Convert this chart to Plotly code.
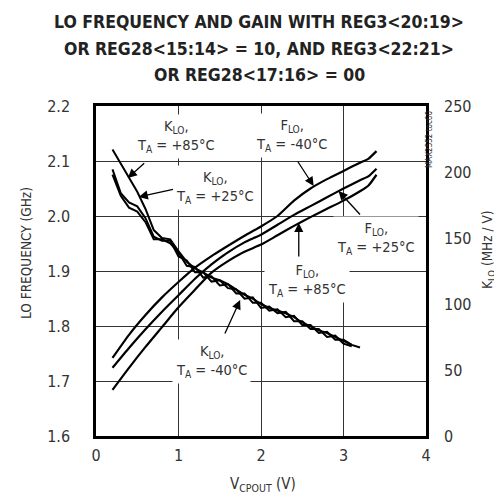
import plotly.graph_objects as go

# ---- data ----
x_f = [0.2, 0.4, 0.6, 0.8, 1.0, 1.2, 1.4, 1.6, 1.8, 2.0, 2.2, 2.4, 2.6, 2.8, 3.0, 3.2, 3.3, 3.4]
f_m40 = [1.742, 1.784, 1.820, 1.852, 1.880, 1.906, 1.927, 1.946, 1.964, 1.981, 2.000, 2.028, 2.050, 2.067, 2.082, 2.097, 2.104, 2.118]
f_p25 = [1.724, 1.760, 1.794, 1.826, 1.856, 1.886, 1.912, 1.934, 1.952, 1.966, 1.984, 2.002, 2.018, 2.034, 2.050, 2.065, 2.072, 2.086]
f_p85 = [1.684, 1.724, 1.762, 1.798, 1.834, 1.866, 1.897, 1.918, 1.935, 1.948, 1.965, 1.982, 1.998, 2.013, 2.028, 2.045, 2.055, 2.075]

x_k85 = [0.2, 0.3, 0.4, 0.5, 0.6, 0.7, 0.8, 0.9, 1.0, 1.1, 1.2, 1.3, 1.4, 1.5, 1.6, 1.7, 1.8, 1.9, 2.0,
         2.1, 2.2, 2.3, 2.4, 2.5, 2.6, 2.7, 2.8, 2.9, 3.0, 3.1, 3.2]
k_p85 = [217, 206, 195, 185, 172, 156, 150, 149, 140, 132, 127, 124, 120, 118, 115, 111, 107, 104, 100,
         97, 95, 93, 90, 86, 83, 80, 78, 75, 72, 69, 67]
x_k = [0.2, 0.3, 0.4, 0.5, 0.6, 0.7, 0.8, 0.9, 1.0, 1.1, 1.2, 1.3, 1.4, 1.5, 1.6, 1.7, 1.8, 1.9, 2.0,
       2.1, 2.2, 2.3, 2.4, 2.5, 2.6, 2.7, 2.8, 2.9, 3.0, 3.1]
k_p25 = [202, 184, 177, 174, 165, 151, 148, 148, 136, 133, 124, 124, 117, 118, 112, 111, 104, 105, 97,
         98, 93, 94, 87, 87, 81, 81, 75, 76, 70, 68]
k_m40 = [198, 182, 173, 170, 162, 149, 149, 146, 139, 129, 128, 120, 121, 114, 115, 108, 108, 101, 101,
         95, 96, 90, 91, 84, 84, 78, 79, 73, 73, 69]

x_ticks = [0, 1, 2, 3, 4]
y_ticks = [1.6, 1.7, 1.8, 1.9, 2.0, 2.1, 2.2]
y_ticklabels = ["1.6", "1.7", "1.8", "1.9", "2.0", "2.1", "2.2"]
y2_ticks = [0, 50, 100, 150, 200, 250]

title_lines = ["LO FREQUENCY AND GAIN WITH REG3<20:19>",
               "OR REG28<15:14> = 10, AND REG3<22:21>",
               "OR REG28<17:16> = 00"]

NARROW = "Liberation Sans Narrow, Arial Narrow, DejaVu Sans Condensed, sans-serif"
LW = 2.0

fig = go.Figure()
for ys in (f_m40, f_p25, f_p85):
    fig.add_trace(go.Scatter(x=x_f, y=ys, mode="lines", line=dict(color="black", width=2.2, shape="spline", smoothing=0.6),
                             showlegend=False, hoverinfo="skip"))
fig.add_trace(go.Scatter(x=x_k85, y=k_p85, yaxis="y2", mode="lines", line=dict(color="black", width=LW),
                         showlegend=False, hoverinfo="skip"))
for ks in (k_p25, k_m40):
    fig.add_trace(go.Scatter(x=x_k, y=ks, yaxis="y2", mode="lines", line=dict(color="black", width=LW),
                             showlegend=False, hoverinfo="skip"))

tick_font = dict(family=NARROW, size=16, color="#333")
fig.update_layout(
    width=502, height=498,
    margin=dict(l=88, r=84, t=98, b=70),
    paper_bgcolor="white", plot_bgcolor="white",
    xaxis=dict(range=[0, 4], tickvals=x_ticks, showgrid=True, gridcolor="#333", gridwidth=1,
               showline=True, linecolor="black", linewidth=2.5, mirror=True, ticks="",
               tickfont=tick_font, ticklabelstandoff=3, zeroline=False),
    yaxis=dict(range=[1.6, 2.2], tickvals=y_ticks, ticktext=y_ticklabels, showgrid=True, gridcolor="#333",
               gridwidth=1, showline=True, linecolor="black", linewidth=2.5, mirror=True, ticks="",
               tickfont=tick_font, ticklabelstandoff=20, zeroline=False),
    yaxis2=dict(range=[0, 250], tickvals=y2_ticks, overlaying="y", side="right", showgrid=False,
                ticks="", tickfont=tick_font, ticklabelstandoff=17, zeroline=False, showline=False),
)

def px2x(px):
    return (px - 88) / 83.0

def py2y(py):
    return 2.2 - (py - 98) / 550.0

def pap(px, py):
    return (px - 88) / 330.0, (428 - py) / 330.0

ann = []
# titles
for t, py in zip(title_lines, [14, 41, 67]):
    xx, yy = pap(251, py)
    ann.append(dict(text="<b>" + t.replace("<", "&lt;").replace(">", "&gt;") + "</b>", xref="paper", yref="paper",
                    x=xx, y=yy, xanchor="center", yanchor="middle",
                    showarrow=False, font=dict(family=NARROW, size=17.5, color="#222")))
# axis titles
for txt, cx, cy, ang, sz in [
    ("LO FREQUENCY (GHz)", 18, 245, -90, 13.5),
    ("K<sub>LO</sub> (MHz / V)", 480, 242, -90, 13.5),
    ("V<sub>CPOUT</sub> (V)", 255, 476, 0, 15),
    ("MAX2552 toc60", 421, 132, -90, 8),
]:
    xx, yy = pap(cx, cy)
    ann.append(dict(text=txt, xref="paper", yref="paper", x=xx, y=yy, xanchor="center", yanchor="middle",
                    textangle=ang, showarrow=False, font=dict(family=NARROW, size=sz, color="#333")))

# curve labels (centre px positions)
labels = [
    ("K<sub>LO</sub>,<br>T<sub>A</sub> = +85°C", 168, 128),
    ("K<sub>LO</sub>,<br>T<sub>A</sub> = +25°C", 208, 179),
    ("F<sub>LO</sub>,<br>T<sub>A</sub> = -40°C", 285, 127),
    ("F<sub>LO</sub>,<br>T<sub>A</sub> = +25°C", 370, 230),
    ("F<sub>LO</sub>,<br>T<sub>A</sub> = +85°C", 300, 272),
    ("K<sub>LO</sub>,<br>T<sub>A</sub> = -40°C", 204, 353),
]
for txt, cx, cy in labels:
    ann.append(dict(text=txt, x=px2x(cx), y=py2y(cy), xref="x", yref="y", showarrow=False, align="center",
                    bgcolor="white", borderpad=3, font=dict(family=NARROW, size=14.5, color="#333")))

# arrows: (tip px, tail px)
arrows = [
    ((120, 170), (138, 154)),
    ((131, 189), (167, 181)),
    ((307, 178), (290, 152)),
    ((332, 183), (355, 208)),
    ((292, 215), (292, 250)),
    ((233, 292), (217, 327)),
]
for (tx, ty), (sx, sy) in arrows:
    ann.append(dict(text="", x=px2x(tx), y=py2y(ty), ax=px2x(sx), ay=py2y(sy), xref="x", yref="y",
                    axref="x", ayref="y", showarrow=True, arrowhead=2, arrowsize=1.4, arrowwidth=1.3,
                    arrowcolor="black"))

fig.update_layout(annotations=ann)
fig.write_html("out.html")
